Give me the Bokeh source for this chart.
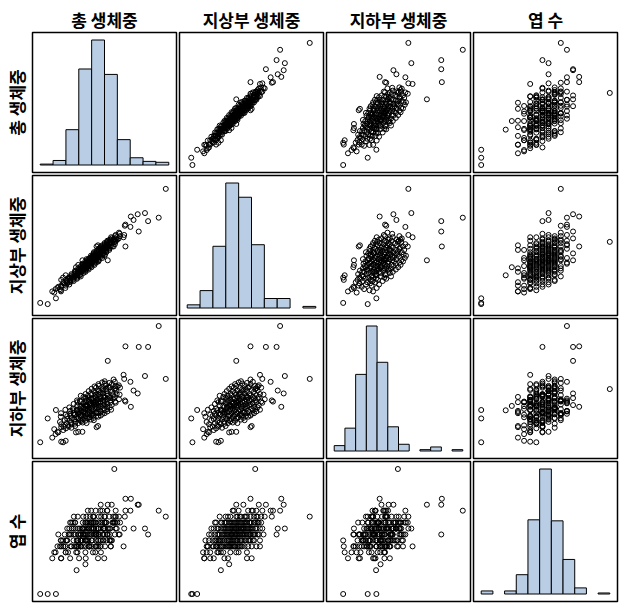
import math
from bokeh.plotting import figure
from bokeh.layouts import row, column
from bokeh.models import Range1d
from bokeh.core.properties import value
from bokeh.embed import file_html
from bokeh.resources import INLINE

labels = ["총 생체중", "지상부 생체중", "지하부 생체중", "엽 수"]

# per-plant records (same order in every list)
total = [128.8, 122.0, 111.8, 108.8, 101.8, 102.8, 97.8, 95.2, 90.0, 88.2,
         88.8, 90.0, 89.4, 94.8, 73.0, 83.6, 82.2, 77.0, 79.3, 8.0,
         15.2, 23.1, 19.6, 32.5, 30.0, 24.6, 44.6, 42.4, 48.6, 63.6,
         62.2, 28.2, 22.8, 28.0, 43.0, 51.5, 69.6, 45.4, 61.0, 58.7, 51.5,
         27.0, 28.2, 32.5, 31.6, 30.4, 36.8, 34.0, 33.6, 37.2, 39.6,
         36.4, 34.8, 40.0, 38.4, 43.6, 37.8, 41.6, 43.2, 40.8, 47.0,
         44.4, 42.6, 47.2, 44.8, 41.4, 47.0, 49.4, 44.2, 47.2, 52.0,
         49.0, 47.0, 49.8, 51.8, 49.6, 46.6, 51.8, 51.4, 54.6, 49.4,
         53.4, 51.0, 57.2, 53.6, 55.2, 50.8, 55.0, 57.8, 53.8, 57.0,
         55.2, 61.0, 53.6, 57.6, 59.2, 55.4, 59.6, 57.8, 61.6, 54.4,
         59.8, 61.4, 57.6, 61.4, 64.4, 59.0, 61.2, 63.8, 58.8, 63.8,
         61.6, 68.2, 63.6, 66.2, 61.2, 66.0, 64.0, 68.8, 66.2, 64.4,
         68.8, 68.6, 66.4, 71.6, 68.6, 65.8, 70.4, 70.2, 68.8, 75.0,
         70.0, 73.0, 72.8, 69.6, 74.6, 72.4, 77.4, 72.2, 75.4, 78.2,
         75.8, 78.0, 76.8, 81.6, 80.0,
         21.5, 27.8, 32.2, 25.4, 28.2, 36.0, 34.0, 30.2, 40.2, 36.8,
         32.8, 43.4, 40.0, 35.4, 43.8, 40.4, 47.0, 38.2, 46.2, 43.8,
         38.0, 49.6, 46.6, 42.0, 51.6, 41.6, 51.4, 45.0, 54.6, 44.6,
         54.0, 52.4, 57.4, 48.2, 47.2, 56.8, 52.6, 60.2, 49.0, 55.0,
         59.6, 48.8, 57.0, 52.0, 61.8, 56.6, 51.4, 59.2, 64.0, 53.2,
         61.4, 64.4, 52.6, 63.8, 56.0, 67.6, 55.6, 63.6, 57.4, 66.6,
         62.6, 56.8, 66.2, 70.0, 59.2, 65.8, 70.2, 59.4, 68.8, 62.2,
         71.6, 59.6, 71.4, 62.0, 64.0, 74.4, 63.8, 73.8, 66.4, 72.6,
         66.2, 78.6, 76.0, 67.8, 70.0, 79.8, 70.0, 75.2, 80.4, 72.4,
         80.6, 72.6, 75.0, 80.8, 79.6, 76.2, 84.8, 80.6, 84.4, 83.8]

above = [105, 80, 77, 84, 83, 68, 78, 81, 55, 63,
         65, 74, 73, 72, 43, 62, 61, 55, 59, 6,
         5, 10, 16, 30, 28, 19, 39, 37, 43, 56,
         55, 26, 18, 16, 30, 37, 52, 33, 45, 43, 38,
         18, 20, 21, 22, 23, 24, 24, 25, 26, 26,
         27, 27, 28, 28, 29, 29, 30, 30, 31, 31,
         32, 32, 33, 33, 33, 34, 34, 34, 35, 35,
         35, 36, 36, 36, 37, 37, 37, 38, 38, 38,
         39, 39, 39, 40, 40, 40, 41, 41, 41, 42,
         42, 42, 42, 43, 43, 43, 44, 44, 44, 44,
         45, 45, 45, 46, 46, 46, 47, 47, 47, 48,
         48, 48, 49, 49, 49, 50, 50, 50, 51, 51,
         51, 52, 52, 52, 53, 53, 53, 54, 54, 54,
         55, 55, 56, 56, 57, 57, 58, 58, 59, 60,
         60, 61, 62, 63, 64,
         15, 17, 19, 20, 21, 22, 23, 24, 25, 25,
         26, 27, 27, 28, 28, 29, 29, 30, 30, 31,
         31, 32, 32, 33, 33, 34, 34, 35, 35, 36,
         36, 36, 37, 37, 38, 38, 38, 39, 39, 39,
         40, 40, 40, 41, 41, 41, 42, 42, 42, 43,
         43, 43, 44, 44, 44, 45, 45, 45, 46, 46,
         46, 47, 47, 47, 48, 48, 48, 49, 49, 50,
         50, 50, 51, 51, 52, 52, 53, 53, 54, 54,
         55, 55, 56, 56, 57, 57, 58, 58, 59, 59,
         60, 60, 61, 61, 62, 63, 64, 65, 66, 67]

below = [23.8, 42.0, 34.8, 24.8, 18.8, 34.8, 19.8, 14.2, 35.0, 25.2,
         23.8, 16.0, 16.4, 22.8, 30.0, 21.6, 21.2, 22.0, 20.3, 2.0,
         10.2, 13.1, 3.6, 2.5, 2.0, 5.6, 5.6, 5.4, 5.6, 7.6,
         7.2, 2.2, 4.8, 12.0, 13.0, 14.5, 17.6, 12.4, 16.0, 15.7, 13.5,
         9.0, 8.2, 11.5, 9.6, 7.4, 12.8, 10.0, 8.6, 11.2, 13.6,
         9.4, 7.8, 12.0, 10.4, 14.6, 8.8, 11.6, 13.2, 9.8, 16.0,
         12.4, 10.6, 14.2, 11.8, 8.4, 13.0, 15.4, 10.2, 12.2, 17.0,
         14.0, 11.0, 13.8, 15.8, 12.6, 9.6, 14.8, 13.4, 16.6, 11.4,
         14.4, 12.0, 18.2, 13.6, 15.2, 10.8, 14.0, 16.8, 12.8, 15.0,
         13.2, 19.0, 11.6, 14.6, 16.2, 12.4, 15.6, 13.8, 17.6, 10.4,
         14.8, 16.4, 12.6, 15.4, 18.4, 13.0, 14.2, 16.8, 11.8, 15.8,
         13.6, 20.2, 14.6, 17.2, 12.2, 16.0, 14.0, 18.8, 15.2, 13.4,
         17.8, 16.6, 14.4, 19.6, 15.6, 12.8, 17.4, 16.2, 14.8, 21.0,
         15.0, 18.0, 16.8, 13.6, 17.6, 15.4, 19.4, 14.2, 16.4, 18.2,
         15.8, 17.0, 14.8, 18.6, 16.0,
         6.5, 10.8, 13.2, 5.4, 7.2, 14.0, 11.0, 6.2, 15.2, 11.8,
         6.8, 16.4, 13.0, 7.4, 15.8, 11.4, 18.0, 8.2, 16.2, 12.8,
         7.0, 17.6, 14.6, 9.0, 18.6, 7.6, 17.4, 10.0, 19.6, 8.6,
         18.0, 16.4, 20.4, 11.2, 9.2, 18.8, 14.6, 21.2, 10.0, 16.0,
         19.6, 8.8, 17.0, 11.0, 20.8, 15.6, 9.4, 17.2, 22.0, 10.2,
         18.4, 21.4, 8.6, 19.8, 12.0, 22.6, 10.6, 18.6, 11.4, 20.6,
         16.6, 9.8, 19.2, 23.0, 11.2, 17.8, 22.2, 10.4, 19.8, 12.2,
         21.6, 9.6, 20.4, 11.0, 12.0, 22.4, 10.8, 20.8, 12.4, 18.6,
         11.2, 23.6, 20.0, 11.8, 13.0, 22.8, 12.0, 17.2, 21.4, 13.4,
         20.6, 12.6, 14.0, 19.8, 17.6, 13.2, 20.8, 15.6, 18.4, 16.8]

leaves = [17, 18, 14, 15, 19, 19, 15, 20, 20, 12,
          15, 18, 17, 18, 19, 14, 16, 13, 25, 4,
          4, 4, 10, 11, 13, 12, 14, 12, 15, 10,
          14, 12, 11, 10, 8, 9, 10, 10, 11, 11, 11,
          12, 13, 11, 14, 12, 10, 15, 13, 12, 16,
          14, 11, 13, 15, 12, 14, 16, 13, 12, 14,
          15, 11, 13, 14, 16, 12, 15, 17, 14, 13,
          16, 12, 15, 10, 14, 13, 16, 15, 12, 17,
          13, 14, 15, 16, 12, 14, 15, 13, 18, 14,
          12, 16, 15, 13, 17, 14, 15, 16, 12, 13,
          14, 18, 15, 13, 14, 16, 12, 15, 17, 14,
          16, 13, 15, 19, 14, 12, 16, 15, 13, 17,
          14, 15, 11, 16, 14, 18, 12, 16, 13, 15,
          17, 14, 15, 16, 13, 18, 16, 14, 15, 17,
          12, 16, 19, 15, 17,
          11, 13, 12, 14, 10, 15, 13, 12, 14, 16,
          13, 12, 15, 14, 11, 17, 13, 12, 15, 13,
          16, 14, 12, 15, 13, 14, 16, 12, 15, 13,
          14, 17, 12, 15, 14, 16, 13, 14, 12, 16,
          15, 13, 18, 12, 14, 16, 13, 15, 12, 16,
          14, 15, 14, 13, 17, 16, 12, 15, 14, 17,
          12, 15, 13, 16, 15, 12, 14, 16, 15, 14,
          13, 17, 16, 15, 14, 17, 13, 15, 16, 14,
          15, 16, 12, 18, 15, 14, 17, 13, 16, 14,
          15, 18, 14, 17, 16, 13, 16, 18, 14, 17]

# histogram bin counts and outer bin edges for each variable
hist_total = [1, 5, 39, 106, 138, 100, 28, 8, 4, 3]
hist_above = [2, 11, 39, 79, 70, 40, 6, 6, 0, 1]
hist_below = [4, 17, 57, 93, 66, 18, 5, 0, 1, 3, 0, 1]
hist_leaves = [3, 0, 3, 19, 73, 123, 72, 34, 6, 0, 1]
edges_total = (8.0, 131.7)
edges_above = (1.6, 110.1)
edges_below = (-1.0, 42.0)
edges_leaves = (4.0, 25.0)

data = [total, above, below, leaves]
hists = [hist_total, hist_above, hist_below, hist_leaves]
edges = [edges_total, edges_above, edges_below, edges_leaves]

PAD = 0.06
FILL = "#b9cde5"
FONT = value("Noto Sans CJK KR")
FSIZE = "17px"

def var_range(k):
    e0, e1 = edges[k]
    span = e1 - e0
    return (e0 - PAD * span, e1 + PAD * span)

PW, PH = 147, 143
LW, TH = 31, 31

def base(w, h, xr, yr, bl=1, br=2, bt=1, bb=2):
    p = figure(width=w, height=h, x_range=Range1d(*xr), y_range=Range1d(*yr),
               output_backend="svg", toolbar_location=None,
               x_axis_location=None, y_axis_location=None,
               min_border_left=bl, min_border_right=br,
               min_border_top=bt, min_border_bottom=bb)
    p.grid.visible = False
    p.outline_line_color = None
    p.background_fill_color = "white"
    p.border_fill_color = "white"
    return p

rows = []
corner = base(LW, TH, (0, 1), (0, 1), 0, 0, 0, 0)
top = [corner]
for j in range(4):
    t = base(PW, TH, (0, 1), (0, 1), 1, 2, 0, 0)
    t.text(x=[0.5], y=[0.38], text=[labels[j]], text_align="center",
           text_baseline="middle", text_font=FONT, text_font_style="bold",
           text_font_size=FSIZE, text_color="black")
    top.append(t)
rows.append(row(*top, spacing=0))

for i in range(4):
    lab = base(LW, PH, (0, 1), (0, 1), 0, 0, 1, 2)
    lab.text(x=[0.53], y=[0.5], text=[labels[i]], angle=math.pi / 2,
             text_align="center", text_baseline="middle", text_font=FONT,
             text_font_style="bold", text_font_size=FSIZE, text_color="black")
    rr = [lab]
    for j in range(4):
        xr = var_range(j)
        if i == j:
            counts = hists[j]
            m = max(counts)
            yr = (-PAD * m, (1 + PAD) * m)
            p = base(PW, PH, xr, yr)
            n = len(counts)
            e0, e1 = edges[j]
            w = (e1 - e0) / n
            lefts = [e0 + k * w for k in range(n) if counts[k] > 0]
            rights = [e0 + (k + 1) * w for k in range(n) if counts[k] > 0]
            tops = [c for c in counts if c > 0]
            p.quad(left=lefts, right=rights, bottom=0, top=tops,
                   fill_color=FILL, line_color="black", line_width=1)
        else:
            yr = var_range(i)
            p = base(PW, PH, xr, yr)
            p.scatter(x=data[j], y=data[i], marker="circle", size=5,
                      fill_color=None, line_color="black", line_width=1)
        p.outline_line_color = "black"
        p.outline_line_width = 1.5
        rr.append(p)
    rows.append(row(*rr, spacing=0))

layout = column(*rows, spacing=0)

with open("out.html", "w") as f:
    f.write(file_html(layout, INLINE))
